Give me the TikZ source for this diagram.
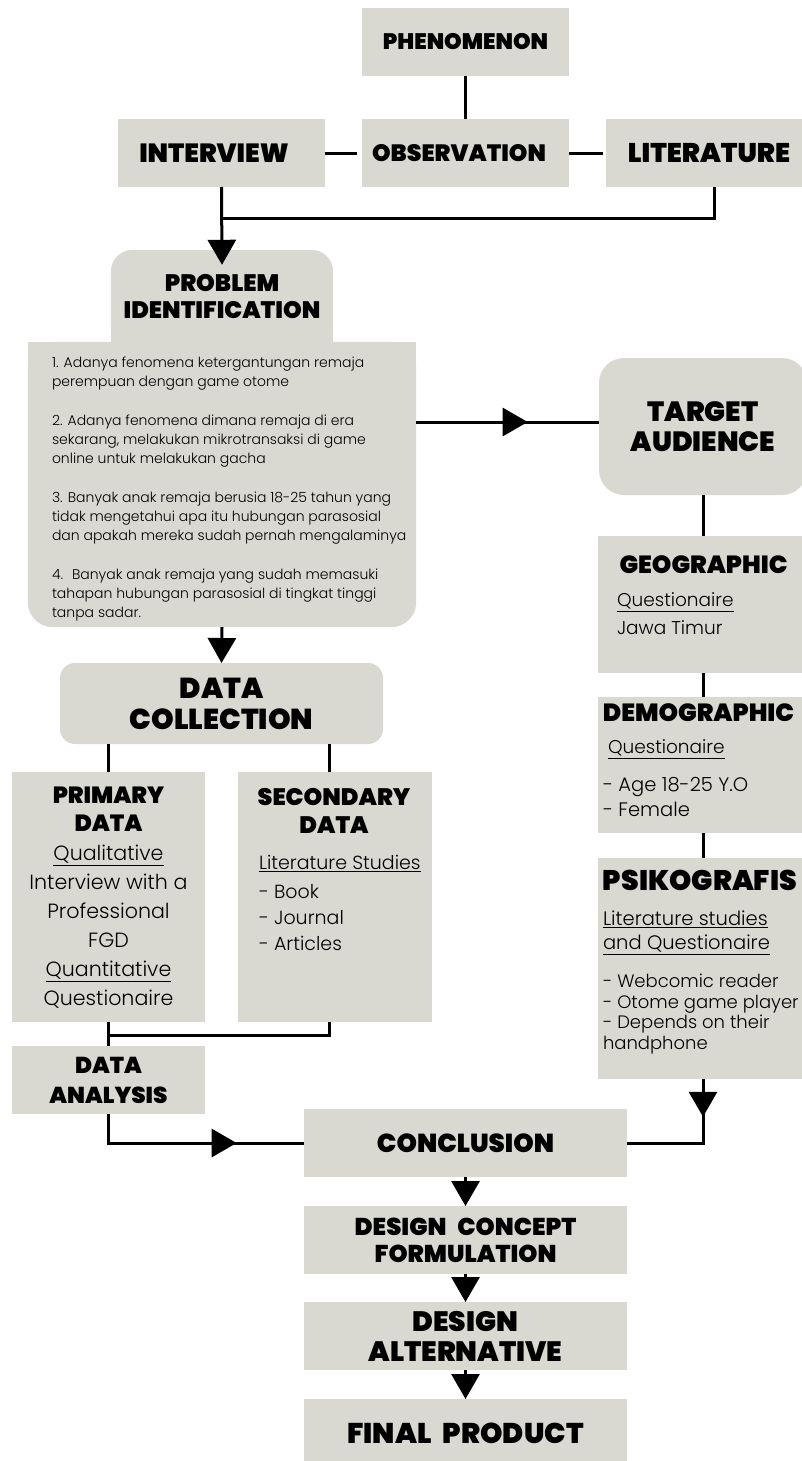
\documentclass[tikz,border=0pt]{standalone}
\usepackage{fontspec}
\usetikzlibrary{arrows.meta,decorations.markings,calc}
\setmainfont{Poppins}
\newfontfamily\bodyf{Poppins Light}
\newfontfamily\headf{Poppins Black}
\newcommand{\HeadSize}[2]{\headf\fontsize{#1}{#2}\selectfont}
\newcommand{\BodySize}[2]{\bodyf\fontsize{#1}{#2}\selectfont}
\definecolor{boxc}{HTML}{DAD9D1}
\tikzset{
  box/.style={fill=boxc, inner sep=0pt, outer sep=0pt, align=center, text=black},
  txt/.style={inner sep=0pt, outer sep=0pt, text=black},
  conn/.style={line width=3pt},
  arr/.style={conn, -{Triangle[width=28pt,length=25pt]}},
  midarr/.style={conn, postaction={decorate},
    decoration={markings, mark=at position #1 with {\arrow{Triangle[width=28pt,length=25pt]}}}},
}
\begin{document}
\begin{tikzpicture}[x=1pt,y=-1pt]
\useasboundingbox (0,0) rectangle (801,1461);
\fill[white] (0,0) rectangle (801,1461);

% --- sources ---
\node[box, minimum width=207, minimum height=68, font=\HeadSize{22.4}{26}] (phen) at (465.5,42) {PHENOMENON};
\node[box, minimum width=207, minimum height=68] (intv) at (221.5,153) {};
\node[box, minimum width=207, minimum height=68] (obs) at (465.5,153) {};
\node[box, minimum width=216, minimum height=68] (lit) at (714,153) {};
\node[txt, font=\HeadSize{26.3}{30}] (intvt) at (214,153) {INTERVIEW};
\node[txt, font=\HeadSize{23.6}{30}] (obst) at (459,153) {OBSERVATION};
\node[txt, font=\HeadSize{27}{30}] (litt) at (709,153) {LITERATURE};

\draw[conn] (phen) -- (obs);
\draw[conn] (intv.east) -- ([xshift=-5pt]obs.west);
\draw[conn] (obs.east) -- ([xshift=-3pt]lit.west);

% --- problem identification ---
\node[minimum width=222, minimum height=100, inner sep=0pt] (ptab) at (222,300) {};
\node[minimum width=388, minimum height=285, inner sep=0pt] (pbody) at (222,484.5) {};
\fill[boxc, rounded corners=22pt] (ptab.north west) rectangle (ptab.south east);
\fill[boxc] ([yshift=40pt]ptab.south west) rectangle (ptab.south east);
\fill[boxc, rounded corners=25pt] (pbody.north west) rectangle (pbody.south east);
\fill[boxc] (pbody.north west) rectangle ([yshift=-40pt]pbody.north east);
\node[txt, align=center, font=\HeadSize{23.8}{27}] (ptitle) at (222,296.5) {PROBLEM\\IDENTIFICATION};
\node[txt, align=left, anchor=north west, font=\BodySize{14}{19}] (pitems) at (52,357) {%
1. Adanya fenomena ketergantungan remaja\\
perempuan dengan game otome\\[20pt]
2. Adanya fenomena dimana remaja di era\\
sekarang, melakukan mikrotransaksi di game\\
online untuk melakukan gacha\\[20pt]
3. Banyak anak remaja berusia 18-25 tahun yang\\
tidak mengetahui apa itu hubungan parasosial\\
dan apakah mereka sudah pernah mengalaminya\\[20pt]
4.~ Banyak anak remaja yang sudah memasuki\\
tahapan hubungan parasosial di tingkat tinggi\\
tanpa sadar.};

\coordinate (jt) at (221.5,218);
\draw[conn] (lit.south) |- (jt);
\draw[arr] (intv.south) -- ([yshift=-15pt]ptab.north);

% --- data collection ---
\node[box, rounded corners=15pt, minimum width=323, minimum height=81, font=\HeadSize{28.8}{31}] (dc) at (221.5,703.5) {DATA\\COLLECTION};
\draw[arr] (pbody.south) -- (dc.north);

\node[box, minimum width=193, minimum height=250] (pd) at (108.5,897) {};
\node[box, minimum width=194, minimum height=250] (sd) at (335,897) {};
\coordinate (sdt) at ([xshift=-6pt]sd.north);
\coordinate (sdb) at ([xshift=-6pt]sd.south);
\draw[conn] (pd.north) -- (pd.north |- dc.south);
\draw[conn] (sdt) -- (sdt |- dc.south);

\node[txt, align=center, font=\HeadSize{23.4}{28}] (pdh) at (108.5,809) {PRIMARY\\DATA};
\node[txt, align=center, anchor=north, font=\BodySize{20.6}{29}] (pdb) at (108.5,845) {%
\underline{Qualitative}\\Interview with a\\Professional\\FGD\\\underline{Quantitative}\\Questionaire};

\node[txt, align=center, font=\HeadSize{23.8}{28}] (sdh) at (334,811) {SECONDARY\\DATA};
\node[txt, anchor=north west, font=\BodySize{19}{26}] (sdl) at (259,855) {\underline{Literature Studies}};
\node[txt, align=left, anchor=north west, font=\BodySize{19}{26}] (sdb2) at (259,884) {- Book\\- Journal\\- Articles};

% --- data analysis ---
\node[box, minimum width=193, minimum height=68, font=\HeadSize{23}{30}] (da) at (108.5,1080) {DATA\\ANALYSIS};
\draw[conn] (sdb) |- (pd.south |- 0,1035);
\draw[conn] (pd.south) -- (da.north);

% --- target audience ---
\node[box, rounded corners=25pt, minimum width=208, minimum height=137, font=\HeadSize{27.8}{30}] (ta) at (703,426.5) {TARGET\\AUDIENCE};
\draw[midarr=0.61] (pbody.east |- 0,422) -- (ta.west |- 0,422);

\node[box, minimum width=210, minimum height=137] (geo) at (703,604.5) {};
\node[txt, font=\HeadSize{24.8}{28}] (geoh) at (703.5,565) {GEOGRAPHIC};
\node[txt, align=left, anchor=north west, font=\BodySize{18.5}{28}] (geob) at (617,593) {\underline{Questionaire}\\Jawa Timur};
\draw[conn] (ta.south) -- (geo.north);

\node[box, minimum width=210, minimum height=136] (demo) at (703,765) {};
\node[txt, font=\HeadSize{24.8}{28}] (demoh) at (698.5,713) {DEMOGRAPHIC};
\node[txt, anchor=north west, font=\BodySize{18.5}{25}] (demoq) at (608,740) {\underline{Questionaire}};
\node[txt, align=left, anchor=north west, font=\BodySize{19.5}{25}] (demob) at (603,777) {- Age 18-25 Y.O\\- Female};
\draw[conn] (geo.south) -- (demo.north);

\node[box, minimum width=210, minimum height=221] (psiko) at (703,968.5) {};
\node[txt, font=\HeadSize{28.3}{30}] (psikoh) at (700,880) {PSIKOGRAFIS};
\node[txt, align=left, anchor=north west, font=\BodySize{19.5}{24}] (psikoq) at (603,911) {\underline{Literature studies}\\\underline{and Questionaire}};
\node[txt, align=left, anchor=north west, font=\BodySize{18}{20.5}] (psikob) at (603,974) {- Webcomic reader\\- Otome game player\\- Depends on their\\handphone};
\draw[conn] (demo.south) -- (psiko.north);

% --- conclusion and design stages ---
\node[box, minimum width=323, minimum height=68, font=\HeadSize{26}{30}] (con) at (465.5,1143) {CONCLUSION};
\node[box, minimum width=323, minimum height=68, font=\HeadSize{24.3}{27}] (dcf) at (465.5,1240) {DESIGN\hspace{0.45em}CONCEPT\\FORMULATION};
\node[box, minimum width=323, minimum height=68, font=\HeadSize{28}{30}] (dalt) at (465.5,1336) {DESIGN\\ALTERNATIVE};
\node[box, minimum width=323, minimum height=68, font=\HeadSize{28.5}{30}] (fp) at (465.5,1433) {FINAL\hspace{0.4em}PRODUCT};

\draw[midarr=0.70] (da.south) |- (con.west);
\draw[midarr=0.27] (psiko.south) |- (con.east);
\draw[arr] (con.south) -- (dcf.north);
\draw[arr] (dcf.south) -- (dalt.north);
\draw[arr] (dalt.south) -- (fp.north);
\end{tikzpicture}
\end{document}
